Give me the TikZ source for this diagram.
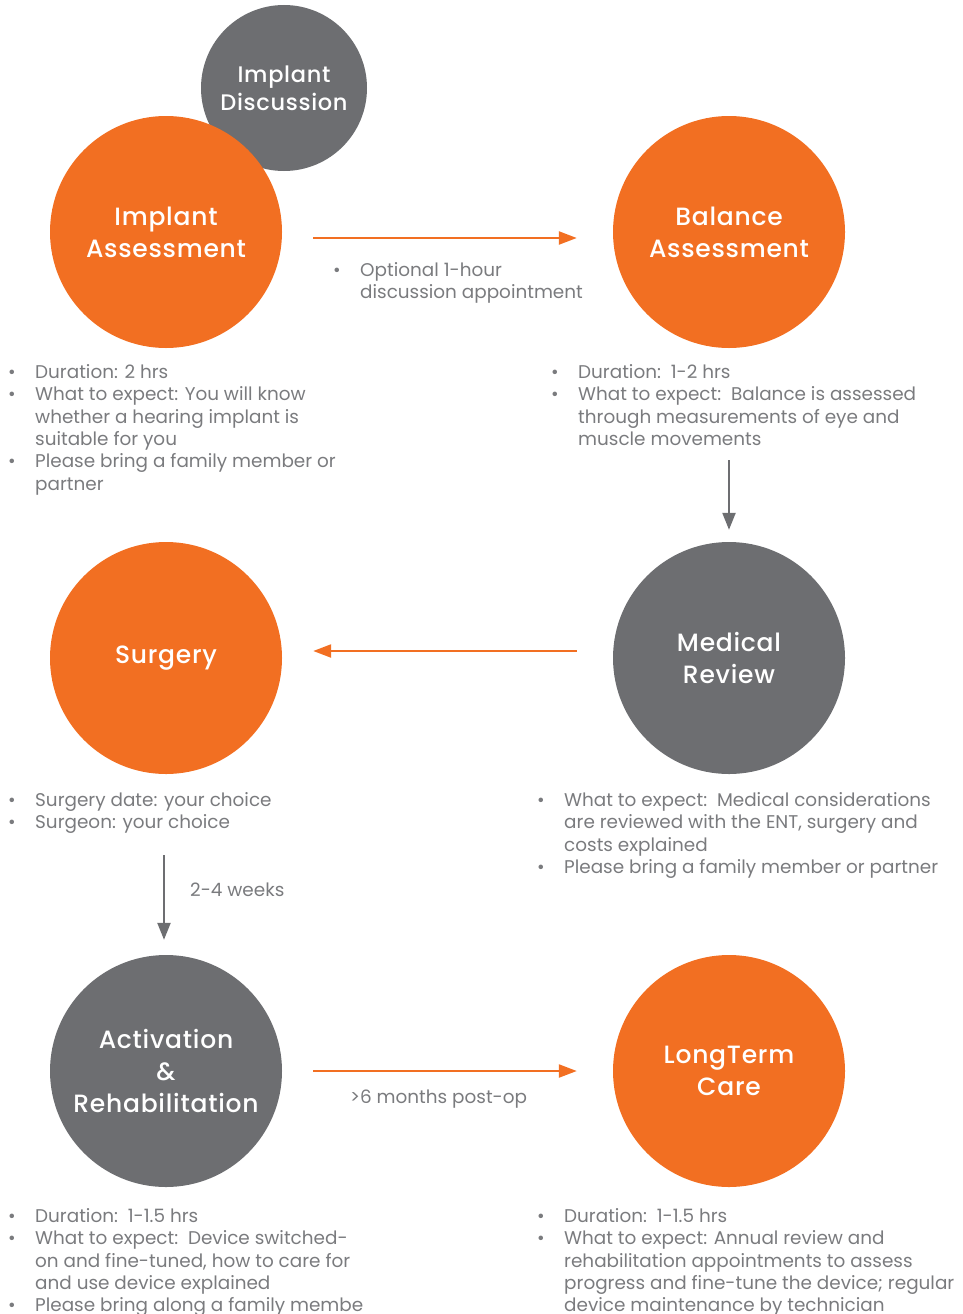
\documentclass[tikz,border=0pt]{standalone}
\usepackage{fontspec}
\setmainfont{Poppins}
\newfontfamily\headfont{Poppins Medium}[LetterSpace=3.0]
\usetikzlibrary{arrows.meta}
\definecolor{orng}{HTML}{F26F22}
\definecolor{dgray}{HTML}{6D6E71}
\definecolor{tgray}{HTML}{7A7B7E}
\newcommand{\bl}{\makebox[27pt][l]{\textbullet}}
\newcommand{\ind}{\hspace*{27pt}}

\begin{document}
\begin{tikzpicture}[x=1pt,y=-1pt,
  stage/.style={circle,inner sep=0pt,minimum size=232pt,text=white,align=center,
    font=\fontsize{25}{32}\selectfont\headfont},
  ostage/.style={stage,fill=orng},
  gstage/.style={stage,fill=dgray},
  info/.style={anchor=north west,inner sep=0pt,align=left,text=tgray,
    font=\fontsize{18.4}{22.4}\selectfont},
  oarrow/.style={orng,line width=2.3pt,-{Triangle[length=18pt,width=13pt]}},
  garrow/.style={dgray,line width=2.3pt,-{Triangle[length=17pt,width=13pt]}}]
\useasboundingbox (0,0) rectangle (963,1314);

% circles
\node[gstage,minimum size=166pt,font=\fontsize{22.5}{28}\selectfont\headfont] (idisc) at (284,88) {Implant\\Discussion};
\node[ostage] (ia) at (166,232) {Implant\\Assessment};
\node[ostage] (ba) at (729,232) {Balance\\Assessment};
\node[gstage] (mr) at (729,658) {Medical\\Review};
\node[ostage] (surg) at (166,658) {Surgery};
\node[gstage] (act) at (166,1071) {Activation\\\&\\Rehabilitation};
\node[ostage] (ltc) at (729,1071) {LongTerm\\Care};

% arrows
\draw[oarrow] ([shift={(31,6)}]ia.east) -- ([shift={(-36,6)}]ba.west);
\draw[garrow] ([shift={(0,112)}]ba.south) -- ([shift={(0,-12)}]mr.north);
\draw[oarrow] ([shift={(-36,-7)}]mr.west) -- ([shift={(31,-7)}]surg.east);
\draw[garrow] ([shift={(-2,81)}]surg.south) -- ([shift={(-2,-15)}]act.north);
\draw[oarrow] ([shift={(31,0)}]act.east) -- ([shift={(-36,0)}]ltc.west);

% texts
\node[info] (opt) at (333,262) {\bl Optional 1-hour\\ \ind discussion appointment};
\node[info] (iainfo) at (8,364) {\bl Duration: 2 hrs\\
  \bl What to expect: You will know\\ \ind whether a hearing implant is\\ \ind suitable for you\\
  \bl Please bring a family member or\\ \ind partner};
\node[info] (bainfo) at (551,364) {\bl Duration:\ \ 1-2 hrs\\
  \bl What to expect:\ \ Balance is assessed\\ \ind through measurements of eye and\\ \ind muscle movements};
\node[info] (surginfo) at (8,792) {\bl Surgery date: your choice\\ \bl Surgeon: your choice};
\node[info] (mrinfo) at (537,792) {\bl What to expect:\ \ Medical considerations\\
  \ind are reviewed with the ENT, surgery and\\ \ind costs explained\\
  \bl Please bring a family member or partner};
\node[info] (wks) at (190,883) {2-4 weeks};
\node[info] (months) at (350,1090) {>6 months post-op};
\node[info] (actinfo) at (8,1208) {\bl Duration:\ \ 1-1.5 hrs\\
  \bl What to expect:\ \ Device switched-\\ \ind on and fine-tuned, how to care for\\ \ind and use device explained\\
  \bl Please bring along a family membe};
\node[info] (ltcinfo) at (537,1208) {\bl Duration:\ \ 1-1.5 hrs\\
  \bl What to expect: Annual review and\\ \ind rehabilitation appointments to assess\\
  \ind progress and fine-tune the device; regular\\ \ind device maintenance by technician};
\end{tikzpicture}
\end{document}
